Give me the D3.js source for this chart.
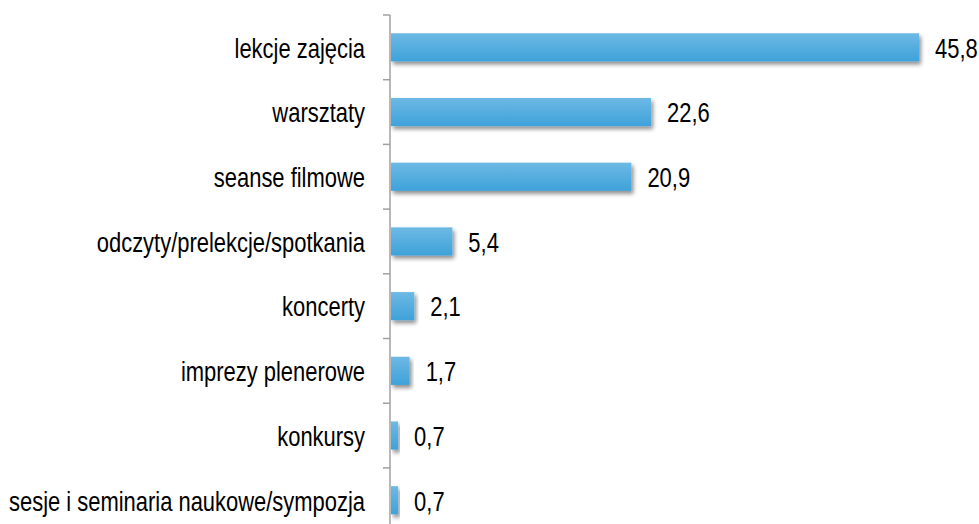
<!DOCTYPE html>
<html>
<head>
<meta charset="utf-8">
<script src="https://cdn.jsdelivr.net/npm/d3@7"></script>
<style>
    body { margin: 0; background: #fff; }
    svg { display: block; }
</style>
</head>
<body>
<svg class="chart"></svg>
<script>
const categories = [
    "lekcje zajęcia",
    "warsztaty",
    "seanse filmowe",
    "odczyty/prelekcje/spotkania",
    "koncerty",
    "imprezy plenerowe",
    "konkursy",
    "sesje i seminaria naukowe/sympozja"
];
const values = [45.8, 22.6, 20.9, 5.4, 2.1, 1.7, 0.7, 0.7];
const valueLabels = ["45,8", "22,6", "20,9", "5,4", "2,1", "1,7", "0,7", "0,7"];

function drawChart() {
    const W = 979, H = 524;
    const axisX = 390, top = 15, band = 64.7;
    const squeeze = 0.77; // labels in the original are tall and narrow

    const svg = d3.select(".chart")
        .attr("width", W)
        .attr("height", H);

    // gradient + shadow for the bars
    const defs = svg.append("defs");
    const grad = defs.append("linearGradient")
        .attr("id", "barGrad")
        .attr("x1", 0).attr("y1", 0).attr("x2", 0).attr("y2", 1);
    grad.append("stop").attr("offset", "0%").attr("stop-color", "#6db9e4");
    grad.append("stop").attr("offset", "100%").attr("stop-color", "#3ea2da");

    const shadow = defs.append("filter")
        .attr("id", "shadow")
        .attr("x", "-10%").attr("y", "-20%")
        .attr("width", "130%").attr("height", "160%");
    shadow.append("feGaussianBlur").attr("in", "SourceAlpha").attr("stdDeviation", 2).attr("result", "blur");
    shadow.append("feOffset").attr("in", "blur").attr("dx", 2).attr("dy", 3).attr("result", "off");
    shadow.append("feComponentTransfer").attr("in", "off").attr("result", "sh")
        .append("feFuncA").attr("type", "linear").attr("slope", 0.45);
    const merge = shadow.append("feMerge");
    merge.append("feMergeNode").attr("in", "sh");
    merge.append("feMergeNode").attr("in", "SourceGraphic");

    const x = d3.scaleLinear()
        .domain([0, 45.8])
        .range([axisX, 919]);

    const y = d3.scaleBand()
        .domain(categories)
        .range([top, top + band * categories.length])
        .paddingInner(0.565)
        .paddingOuter(0.2825);

    // bars
    svg.selectAll(".bar")
        .data(values)
        .enter().append("rect")
        .attr("class", "bar")
        .attr("x", x(0) + 1)
        .attr("y", (d, i) => y(categories[i]))
        .attr("width", d => x(d) - x(0) - 1)
        .attr("height", y.bandwidth())
        .style("fill", "url(#barGrad)")
        .attr("filter", "url(#shadow)");

    // y axis
    const axis = svg.append("g")
        .attr("transform", `translate(${axisX},0)`);
    const lastY = top + band * categories.length;
    axis.append("line")
        .attr("x1", 0).attr("x2", 0)
        .attr("y1", top).attr("y2", lastY)
        .attr("stroke", "#a0a0a0")
        .attr("stroke-width", 1.5);
    axis.selectAll(".tick")
        .data(d3.range(categories.length + 1))
        .enter().append("line")
        .attr("x1", -7).attr("x2", 0)
        .attr("y1", i => top + band * i)
        .attr("y2", i => top + band * i)
        .attr("stroke", "#a0a0a0")
        .attr("stroke-width", 1.5);

    // category labels
    svg.selectAll(".cat")
        .data(categories)
        .enter().append("text")
        .attr("transform", d => `translate(${axisX - 25},${y(d) + y.bandwidth() / 2}) scale(${squeeze},1)`)
        .attr("dy", "0.36em")
        .attr("text-anchor", "end")
        .style("font-family", "Liberation Sans, Arial, sans-serif")
        .style("font-size", "28.5px")
        .style("fill", "#000")
        .text(d => d);

    // value labels
    svg.selectAll(".val")
        .data(values)
        .enter().append("text")
        .attr("transform", (d, i) => `translate(${x(d) + 16},${y(categories[i]) + y.bandwidth() / 2}) scale(${squeeze},1)`)
        .attr("dy", "0.36em")
        .style("font-family", "Liberation Sans, Arial, sans-serif")
        .style("font-size", "28.5px")
        .style("fill", "#000")
        .text((d, i) => valueLabels[i]);
}

drawChart();
</script>
</body>
</html>
